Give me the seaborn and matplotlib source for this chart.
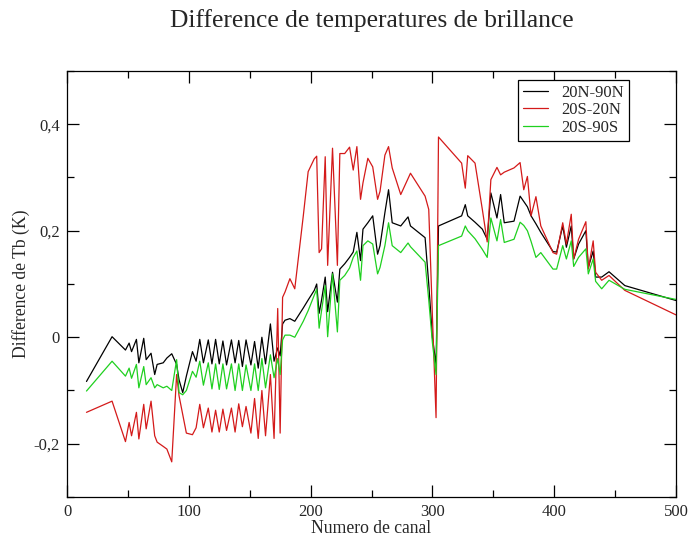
import matplotlib
matplotlib.use("Agg")
import matplotlib.pyplot as plt
from matplotlib.ticker import MultipleLocator, FuncFormatter
from matplotlib.lines import Line2D
import seaborn as sns
import pandas as pd

# Channel numbers shared by the three latitude bands
canal = [16, 37, 48, 51, 53, 57, 59, 63, 65, 69, 72, 74, 79, 82, 86, 90, 92, 95, 98, 103, 106,
         109, 112, 116, 119, 122, 125, 128, 131, 135, 138, 141, 144, 147, 151, 154, 157, 160, 163,
         167, 170, 173, 175, 177, 179,
         183, 187, 194, 198, 203, 205, 207, 209, 212, 214, 218, 222, 224, 228, 232, 235, 238, 241,
         243, 247, 251, 255, 257, 261, 264, 267, 274, 280, 282, 294, 297, 300, 303,
         305, 324, 327, 329, 335, 341, 345, 348, 353, 356, 359, 367, 372, 375, 378, 381, 385, 389,
         399, 402, 407, 410, 414, 416, 420, 426, 428, 432, 434, 439, 445, 458, 500]

# Brightness-temperature differences (K), 20N-90N
tb_20n_90n = [-0.083, 0.001, -0.024, -0.011, -0.027, -0.004, -0.048, -0.002, -0.042, -0.030, -0.070,
              -0.051, -0.048, -0.039, -0.031, -0.051, -0.080, -0.104, -0.073, -0.027, -0.045,
              -0.004, -0.048, -0.005, -0.050, -0.004, -0.050, -0.007, -0.052, -0.005, -0.048, -0.006,
              -0.055, -0.005, -0.052, -0.008, -0.058, 0.000, -0.050,
              0.025, -0.045, -0.020, -0.035, 0.025, 0.032,
              0.035, 0.030, 0.055, 0.070, 0.088, 0.100, 0.045, 0.070, 0.113, 0.048, 0.122, 0.066,
              0.128, 0.138, 0.150, 0.160, 0.197, 0.144, 0.203, 0.215, 0.228, 0.156, 0.172, 0.234,
              0.277, 0.215, 0.209, 0.226, 0.209, 0.187, 0.100, 0.000, -0.052,
              0.209, 0.228, 0.249, 0.228, 0.216, 0.203, 0.184, 0.271, 0.224, 0.268, 0.215, 0.218,
              0.265, 0.255, 0.245, 0.228, 0.213, 0.197, 0.161, 0.160, 0.209, 0.169, 0.209, 0.147,
              0.175, 0.200, 0.131, 0.162, 0.113, 0.113, 0.123, 0.097, 0.069]

# 20S-20N
tb_20s_20n = [-0.141, -0.120, -0.196, -0.160, -0.185, -0.141, -0.191, -0.126, -0.172, -0.120, -0.185,
              -0.197, -0.205, -0.210, -0.234, -0.070, -0.110, -0.145, -0.180, -0.183, -0.170,
              -0.126, -0.170, -0.133, -0.178, -0.137, -0.178, -0.135, -0.175, -0.133, -0.178, -0.125,
              -0.168, -0.130, -0.180, -0.115, -0.190, -0.100, -0.185,
              -0.070, -0.190, 0.054, -0.180, 0.075, 0.085,
              0.110, 0.091, 0.228, 0.311, 0.335, 0.340, 0.159, 0.166, 0.339, 0.135, 0.355, 0.135,
              0.345, 0.345, 0.357, 0.314, 0.358, 0.259, 0.290, 0.336, 0.320, 0.259, 0.274, 0.342,
              0.358, 0.318, 0.268, 0.298, 0.308, 0.265, 0.240, 0.040, -0.151,
              0.376, 0.327, 0.280, 0.341, 0.327, 0.240, 0.179, 0.296, 0.319, 0.305, 0.310, 0.318,
              0.328, 0.277, 0.302, 0.228, 0.264, 0.209, 0.159, 0.156, 0.215, 0.175, 0.231, 0.147,
              0.184, 0.217, 0.128, 0.181, 0.122, 0.107, 0.116, 0.088, 0.042]

# 20S-90S
tb_20s_90s = [-0.101, -0.045, -0.073, -0.058, -0.077, -0.051, -0.095, -0.055, -0.089, -0.076, -0.095,
              -0.089, -0.095, -0.092, -0.100, -0.042, -0.104, -0.108, -0.100, -0.064, -0.075,
              -0.045, -0.090, -0.048, -0.097, -0.050, -0.098, -0.050, -0.097, -0.050, -0.100, -0.050,
              -0.100, -0.052, -0.100, -0.050, -0.100, -0.040, -0.095,
              -0.033, -0.076, -0.040, -0.070, -0.005, 0.004,
              0.004, 0.000, 0.030, 0.050, 0.079, 0.090, 0.017, 0.050, 0.097, 0.001, 0.119, 0.010,
              0.107, 0.116, 0.130, 0.150, 0.162, 0.107, 0.172, 0.181, 0.175, 0.119, 0.131, 0.172,
              0.215, 0.172, 0.159, 0.177, 0.170, 0.141, 0.070, -0.010, -0.070,
              0.172, 0.190, 0.209, 0.200, 0.185, 0.165, 0.150, 0.224, 0.181, 0.221, 0.178, 0.184,
              0.216, 0.210, 0.200, 0.180, 0.150, 0.159, 0.128, 0.128, 0.172, 0.147, 0.181, 0.133,
              0.150, 0.166, 0.119, 0.147, 0.105, 0.091, 0.107, 0.090, 0.071]

zones = ["20N-90N", "20S-20N", "20S-90S"]
colors = ["#000000", "#d41a1a", "#1fd01f"]

frames = []
for zone, vals in zip(zones, [tb_20n_90n, tb_20s_20n, tb_20s_90s]):
    frames.append(pd.DataFrame({"canal": canal, "dTb": vals, "zone": zone}))
df = pd.concat(frames, ignore_index=True)

sns.set_style("ticks")
plt.rcParams["font.family"] = ["Liberation Serif", "DejaVu Serif"]

fig = plt.figure(figsize=(6.97, 5.37), dpi=100)
ax = fig.add_axes([67 / 697, 1 - 497 / 537, (676 - 67) / 697, (497 - 71) / 537])

sns.lineplot(data=df, x="canal", y="dTb", hue="zone", hue_order=zones,
             palette=dict(zip(zones, colors)), linewidth=0.9, ax=ax,
             estimator=None, sort=False, legend=False)

ax.set_xlim(0, 500)
ax.set_ylim(-0.3, 0.5)
ax.xaxis.set_major_locator(MultipleLocator(100))
ax.xaxis.set_minor_locator(MultipleLocator(50))
ax.yaxis.set_major_locator(MultipleLocator(0.2))
ax.yaxis.set_minor_locator(MultipleLocator(0.1))


def comma_fmt(v, pos):
    if abs(v) < 1e-9:
        return "0"
    return f"{v:.1f}".replace(".", ",")


ax.yaxis.set_major_formatter(FuncFormatter(comma_fmt))
ax.tick_params(which="both", direction="in", top=True, right=True, color="black", width=0.9)
ax.tick_params(which="major", length=8.5, labelsize=12, pad=5)
ax.tick_params(which="minor", length=5)
for sp in ax.spines.values():
    sp.set_linewidth(0.9)
    sp.set_color("black")

ax.set_xlabel("Numero de canal", fontsize=12.7, labelpad=0)
ax.set_ylabel("Difference de Tb (K)", fontsize=12.7, labelpad=2.5)

fig.text(372 / 697, 1 - 21 / 537, "Difference de temperatures de brillance",
         ha="center", va="center", fontsize=18.4)

handles = [Line2D([0], [0], color=c, lw=0.9) for c in colors]
leg = ax.legend(handles, zones, loc="upper left", bbox_to_anchor=((518 - 67) / 609, (497 - 80) / 426),
                fontsize=12, frameon=True, fancybox=False, edgecolor="black", framealpha=1,
                handlelength=1.5, handletextpad=0.8, labelspacing=0.08, borderpad=0.3,
                borderaxespad=0)
leg.get_frame().set_linewidth(0.9)

fig.savefig("out.png", dpi=100)
